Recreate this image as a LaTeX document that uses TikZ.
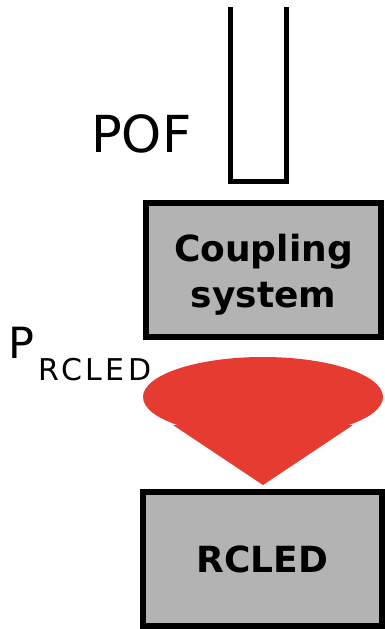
\documentclass[tikz,border=0pt]{standalone}
\usepackage{fontspec}
\setmainfont{DejaVu Sans}
\definecolor{boxgray}{RGB}{179,179,179}
\definecolor{beamred}{RGB}{229,59,48}
\tikzset{
  block/.style={draw=black,line width=6pt,fill=boxgray,inner sep=0pt,
    align=center,font=\fontsize{36}{46}\selectfont\bfseries},
  lbl/.style={inner sep=0pt,anchor=base west}
}
\begin{document}
\begin{tikzpicture}[x=1pt,y=-1pt]
	\useasboundingbox (0,0) rectangle (384,629);
	% fibre
	\draw[line width=5pt] (230,7) -- (230,181) -- (286,181) -- (286,7);
	\node[lbl,font=\fontsize{51}{51}\selectfont] (pof) at (91,152) {POF};
	% boxes
	\node[block,minimum width=235pt,minimum height=134pt] (coupling) at (263.5,270) {\rule{0pt}{36pt}Coupling\\system};
	\node[block,minimum width=239pt,minimum height=134pt] (rcled) at (262.5,559) {RCLED};
	% emission cone
	\fill[beamred] (263,397) ellipse [x radius=120pt,y radius=40pt];
	\fill[beamred] (173,425) -- (263,485) -- (353,425) -- cycle;
	\node[lbl,font=\fontsize{43}{43}\selectfont] (power) at (8,358)
	  {P\hspace{4pt}\raisebox{-22pt}{\fontsize{30}{30}\selectfont\addfontfeature{LetterSpace=12}RCLED}};
\end{tikzpicture}
\end{document}
